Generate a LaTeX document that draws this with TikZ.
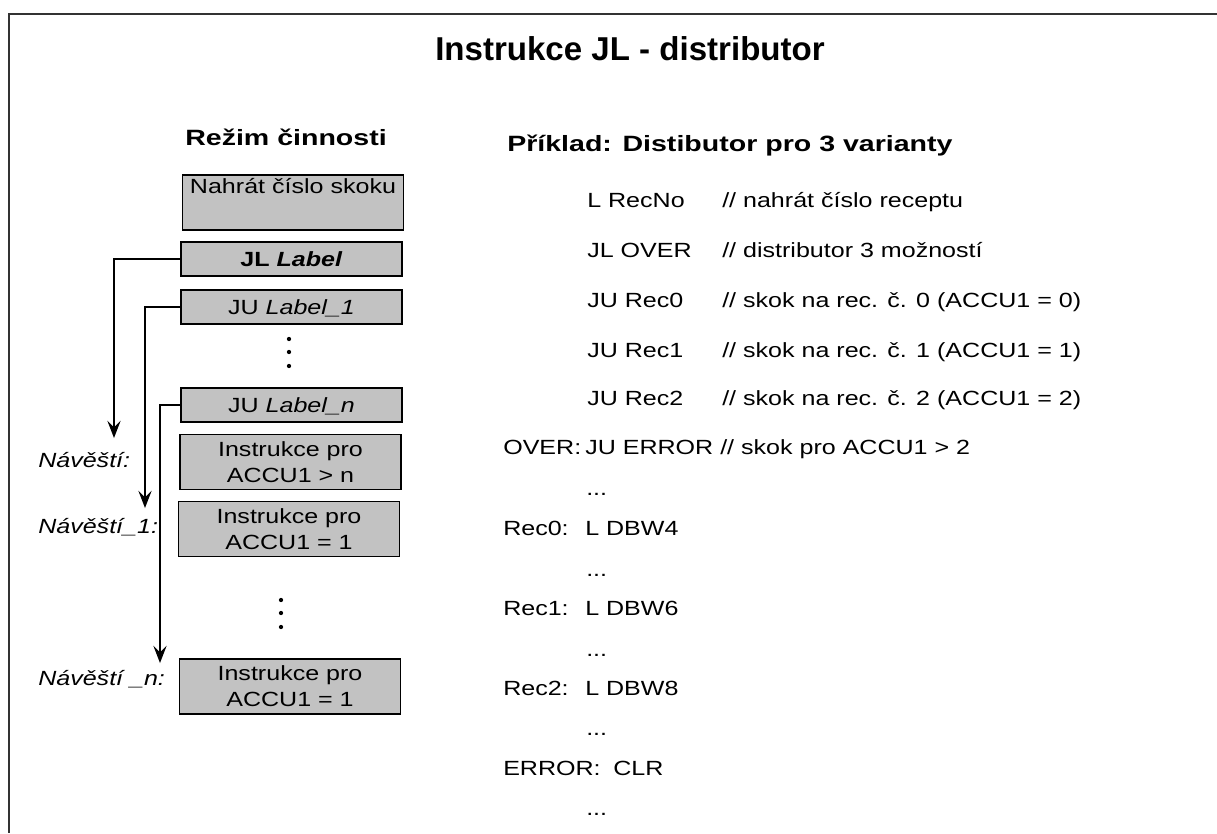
\documentclass[tikz,border=0pt]{standalone}
\usepackage{fontspec}
\setmainfont{Liberation Sans}[FakeStretch=1.22]
\newfontfamily\headfont{Liberation Sans}[FakeStretch=1.29]
\newfontfamily\titlefont{Liberation Sans}
\usetikzlibrary{arrows.meta}
\definecolor{boxgray}{gray}{0.76}
\begin{document}
\begin{tikzpicture}[x=0.75pt,y=-0.75pt,
  txt/.style={font=\fontsize{15.4}{19.5}\selectfont},
  box/.style={txt, draw=black, line width=1.2pt, fill=boxgray,
    minimum width=165.75pt, align=center, inner sep=0pt},
  onel/.style={box, minimum height=25.5pt, text depth=0pt},
  twol/.style={box, minimum height=41.25pt},
  code/.style={txt, anchor=base west, inner sep=0pt},
  lbl/.style={txt, anchor=base west, inner sep=0pt, font=\fontsize{15.4}{19.5}\selectfont\itshape},
  head/.style={anchor=base west, inner sep=0pt, font=\headfont\fontsize{16.6}{20}\selectfont\bfseries},
  arr/.style={line width=1.1pt, -{Stealth[length=13pt,width=10pt,inset=5pt]}},
  frame/.style={line width=1.1pt, black!80}
]
\useasboundingbox (0,0) rectangle (1217,833);
\draw[frame] (1217,14) -- (9,14) -- (9,833);

% title and headings
\node[anchor=base, inner sep=0pt, font=\titlefont\fontsize{24.8}{28}\selectfont\bfseries] (title) at (630,60) {Instrukce JL - distributor};
\node[head] (hl) at (185,145) {Režim činnosti};
\node[head] (hr) at (507,151) {Příklad: Distibutor pro 3 varianty};

% left column boxes
\node[twol] (b0) at (293,202.5) {Nahrát číslo skoku\\\strut};
\node[onel] (b1) at (291.5,259) {\textbf{JL \textit{Label}}};
\node[onel] (b2) at (291.5,307) {JU \textit{Label\_1}};
\node[onel] (b3) at (291.5,405) {JU \textit{Label\_n}};
\node[twol] (b4) at (290.5,462) {Instrukce pro\\ACCU1 > n};
\node[twol] (b5) at (289,529) {Instrukce pro\\ACCU1 = 1};
\node[twol] (b6) at (290,686.5) {Instrukce pro\\ACCU1 = 1};

% vertical ellipses
\foreach \yy in {339,352,366} \fill (289,\yy) circle[radius=1.6pt];
\foreach \yy in {600,613,627} \fill (281,\yy) circle[radius=1.6pt];

% labels
\node[lbl] (n0) at (38,467) {Návěští:};
\node[lbl] (n1) at (38,533) {Návěští\_1:};
\node[lbl] (n2) at (38,685) {Návěští \_n:};

% jump arrows
\coordinate (t0) at (114,438);
\coordinate (t1) at (145,508);
\coordinate (t2) at (160,663);
\draw[arr] (b1.west) -| (t0);
\draw[arr] (b2.west) -| (t1);
\draw[arr] (b3.west) -| (t2);

% code listing
\node[code] (c1i) at (587,207) {L RecNo};
\node[code] (c1c) at (722,207) {// nahrát číslo receptu};
\node[code] (c2i) at (587,257) {JL OVER};
\node[code] (c2c) at (722,257) {// distributor 3 možností};
\node[code] (c3i) at (587,307) {JU Rec0};
\node[code] (c3c) at (722,307) {// skok na rec. č. 0 (ACCU1 = 0)};
\node[code] (c4i) at (587,357) {JU Rec1};
\node[code] (c4c) at (722,357) {// skok na rec. č. 1 (ACCU1 = 1)};
\node[code] (c5i) at (587,405) {JU Rec2};
\node[code] (c5c) at (722,405) {// skok na rec. č. 2 (ACCU1 = 2)};
\node[code] (c6l) at (503,454) {OVER:};
\node[code] (c6i) at (585,454) {JU ERROR};
\node[code] (c6c) at (720,454) {// skok pro ACCU1 > 2};
\node[code] (d1) at (586,495) {...};
\node[code] (c7l) at (503,535) {Rec0:};
\node[code] (c7i) at (585,535) {L DBW4};
\node[code] (d2) at (586,576) {...};
\node[code] (c8l) at (503,615) {Rec1:};
\node[code] (c8i) at (585,615) {L DBW6};
\node[code] (d3) at (586,656) {...};
\node[code] (c9l) at (503,695) {Rec2:};
\node[code] (c9i) at (585,695) {L DBW8};
\node[code] (d4) at (586,735) {...};
\node[code] (c10l) at (503,775) {ERROR:};
\node[code] (c10i) at (613,775) {CLR};
\node[code] (d5) at (586,815) {...};
\end{tikzpicture}
\end{document}
